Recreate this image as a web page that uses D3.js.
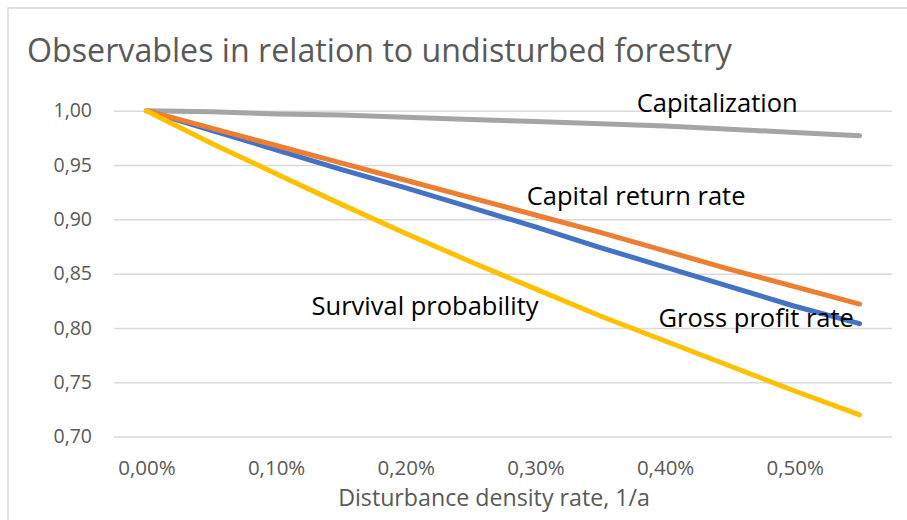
<!DOCTYPE html>
<html>
<head>
<meta charset="utf-8">
<script src="https://cdn.jsdelivr.net/npm/d3@7"></script>
<style>
  body { margin: 0; background: #fff; }
  text { font-family: "Open Sans", sans-serif; }
</style>
</head>
<body>
<div id="chart"></div>
<script>
var width = 907;
var height = 520;

// x categories (disturbance density rate, %)
var rates = [0.00, 0.05, 0.10, 0.15, 0.20, 0.25, 0.30, 0.35, 0.40, 0.45, 0.50, 0.55];
var labelledRates = [0.00, 0.10, 0.20, 0.30, 0.40, 0.50];
var yTicks = [0.70, 0.75, 0.80, 0.85, 0.90, 0.95, 1.00];

// series values
var capitalization = [1.000, 0.999, 0.997, 0.996, 0.994, 0.992, 0.990, 0.988, 0.986, 0.983, 0.980, 0.977];
var grossProfitRate = [1.000, 0.982, 0.964, 0.946, 0.929, 0.911, 0.893, 0.874, 0.856, 0.838, 0.820, 0.804];
var capitalReturnRate = [1.000, 0.984, 0.968, 0.952, 0.936, 0.920, 0.904, 0.888, 0.871, 0.854, 0.838, 0.822];
var survivalProbability = [1.000, 0.970, 0.942, 0.914, 0.887, 0.861, 0.836, 0.811, 0.788, 0.765, 0.742, 0.720];

var seriesNames = ["Capitalization", "Gross profit rate", "Capital return rate", "Survival probability"];
var seriesValues = [capitalization, grossProfitRate, capitalReturnRate, survivalProbability];
var seriesColors = ["#a5a5a5", "#4472c4", "#ed7d31", "#ffc000"];

// where the in-plot labels sit, in data units (rate, value)
var labelSpots = {
  "Capitalization": [0.4402, 0.9985],
  "Capital return rate": [0.3777, 0.9132],
  "Gross profit rate": [0.4703, 0.8009],
  "Survival probability": [0.2149, 0.8119]
};

var svg = d3.select("#chart").append("svg")
      .attr("width", width)
      .attr("height", height);

// chart frame
svg.append("rect")
      .attr("x", 8)
      .attr("y", 8)
      .attr("width", 1000)
      .attr("height", 1000)
      .style("fill", "none")
      .style("stroke", "#d9d9d9")
      .style("stroke-width", 1.5);

var xScale = d3.scalePoint()
      .domain(rates)
      .range([114, 892])
      .padding(0.5);

var yScale = d3.scaleLinear()
      .domain([0.70, 1.00])
      .range([436.6, 110.7]);

// continuous helper for label anchors
var xLin = d3.scaleLinear()
      .domain([0, 0.55])
      .range([xScale(0), xScale(0.55)]);

var fmtNum = d => d3.format(".2f")(d).replace(".", ",");
var fmtPct = d => d3.format(".2f")(d).replace(".", ",") + "%";

// title
svg.append("text")
      .attr("x", 27)
      .attr("y", 62)
      .style("font-size", "32.2px")
      .style("fill", "#595959")
      .text("Observables in relation to undisturbed forestry");

// gridlines
var yAxis = d3.axisLeft(yScale)
      .tickValues(yTicks)
      .tickSize(-(892 - 114))
      .tickPadding(22)
      .tickFormat(fmtNum);

var yAxisGroup = svg.append("g")
      .attr("transform", "translate(114,0)")
      .call(yAxis);
yAxisGroup.select(".domain").remove();
yAxisGroup.selectAll(".tick line")
      .style("stroke", "#d9d9d9")
      .style("stroke-width", 1.5);
yAxisGroup.selectAll(".tick text")
      .style("font-size", "19.5px")
      .style("fill", "#595959")
      .attr("x", -22);

var xAxis = d3.axisBottom(xScale)
      .tickValues(labelledRates)
      .tickSize(0)
      .tickPadding(0)
      .tickFormat(fmtPct);

var xAxisGroup = svg.append("g")
      .attr("transform", "translate(0,436.6)")
      .call(xAxis);
xAxisGroup.select(".domain").remove();
xAxisGroup.selectAll(".tick text")
      .attr("dy", null)
      .attr("y", 38)
      .style("font-size", "20.5px")
      .style("fill", "#595959");

svg.append("text")
      .attr("x", 494)
      .attr("y", 506)
      .style("text-anchor", "middle")
      .style("font-size", "23.2px")
      .style("fill", "#595959")
      .text("Disturbance density rate, 1/a");

// lines
var line = d3.line()
      .x((d, i) => xScale(rates[i]))
      .y(d => yScale(d));

var plot = svg.append("g");
seriesValues.forEach(function(vals, k) {
      plot.append("path")
            .attr("d", line(vals))
            .style("fill", "none")
            .style("stroke", seriesColors[k])
            .style("stroke-width", 5)
            .style("stroke-linecap", "round")
            .style("stroke-linejoin", "round");
});

// in-plot labels
seriesNames.forEach(function(name) {
      var spot = labelSpots[name];
      svg.append("text")
            .attr("x", xLin(spot[0]))
            .attr("y", yScale(spot[1]))
            .style("text-anchor", "middle")
            .style("font-size", "25.5px")
            .style("fill", "#000")
            .text(name);
});
</script>
</body>
</html>
